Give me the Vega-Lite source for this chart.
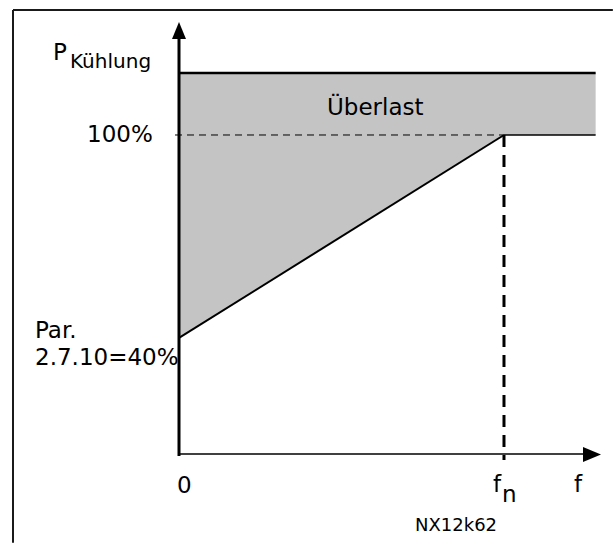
{
  "$schema": "https://vega.github.io/schema/vega-lite/v6.json",
  "width": 614,
  "height": 544,
  "autosize": {"type": "fit", "contains": "padding"},
  "padding": 0,
  "background": "white",
  "config": {"view": {"stroke": null}},
  "encoding": {
    "x": {"field": "x", "type": "quantitative", "axis": null, "scale": {"domain": [-0.5508, 1.3385], "nice": false, "zero": false}},
    "y": {"field": "y", "type": "quantitative", "axis": null, "scale": {"domain": [-20.9, 139.9], "nice": false, "zero": false}}
  },
  "layer": [
    {
      "data": {"values": [
        {"x": 0, "y": 40, "y2": 118.3},
        {"x": 1, "y": 100, "y2": 118.3},
        {"x": 1.282, "y": 100, "y2": 118.3}
      ]},
      "mark": {"type": "area", "color": "#c4c4c4", "interpolate": "linear"},
      "encoding": {"y2": {"field": "y2"}}
    },
    {
      "data": {"values": [
        {"part": "frame left", "x": -0.5108, "x2": -0.5108, "y": 136.94, "y2": -20.5},
        {"part": "frame top", "x": -0.5108, "x2": 1.335, "y": 136.94, "y2": 136.94}
      ]},
      "mark": {"type": "rule", "color": "#1a1a1a", "strokeWidth": 2},
      "encoding": {"x2": {"field": "x2"}, "y2": {"field": "y2"}}
    },
    {
      "data": {"values": [
        {"part": "overload top", "x": 0, "x2": 1.282, "y": 118.3, "y2": 118.3}
      ]},
      "mark": {"type": "rule", "color": "black", "strokeWidth": 2.5},
      "encoding": {"x2": {"field": "x2"}, "y2": {"field": "y2"}}
    },
    {
      "data": {"values": [
        {"part": "ramp", "x": 0, "x2": 1, "y": 40, "y2": 100}
      ]},
      "mark": {"type": "rule", "color": "black", "strokeWidth": 2},
      "encoding": {"x2": {"field": "x2"}, "y2": {"field": "y2"}}
    },
    {
      "data": {"values": [
        {"part": "100% right", "x": 1, "x2": 1.282, "y": 100, "y2": 100}
      ]},
      "mark": {"type": "rule", "color": "black", "strokeWidth": 1.5},
      "encoding": {"x2": {"field": "x2"}, "y2": {"field": "y2"}}
    },
    {
      "data": {"values": [
        {"part": "100% dashed", "x": -0.0123, "x2": 1, "y": 100, "y2": 100}
      ]},
      "mark": {"type": "rule", "color": "black", "strokeWidth": 1, "strokeDash": [7, 5]},
      "encoding": {"x2": {"field": "x2"}, "y2": {"field": "y2"}}
    },
    {
      "data": {"values": [
        {"part": "fn dashed", "x": 1, "x2": 1, "y": 100, "y2": 3.93}
      ]},
      "mark": {"type": "rule", "color": "black", "strokeWidth": 3, "strokeDash": [12, 8]},
      "encoding": {"x2": {"field": "x2"}, "y2": {"field": "y2"}}
    },
    {
      "data": {"values": [
        {"part": "y axis", "x": 0, "x2": 0, "y": 5.11, "y2": 129.5}
      ]},
      "mark": {"type": "rule", "color": "black", "strokeWidth": 3},
      "encoding": {"x2": {"field": "x2"}, "y2": {"field": "y2"}}
    },
    {
      "data": {"values": [
        {"part": "x axis", "x": 0, "x2": 1.25, "y": 5.7, "y2": 5.7}
      ]},
      "mark": {"type": "rule", "color": "black", "strokeWidth": 1.5},
      "encoding": {"x2": {"field": "x2"}, "y2": {"field": "y2"}}
    },
    {
      "data": {"values": [
        {"x": -0.0215, "y": 128.37, "y2": 128.37},
        {"x": 0, "y": 128.37, "y2": 133.4},
        {"x": 0.0215, "y": 128.37, "y2": 128.37}
      ]},
      "mark": {"type": "area", "color": "black", "interpolate": "linear", "orient": "vertical"},
      "encoding": {"y2": {"field": "y2"}}
    },
    {
      "data": {"values": [
        {"y": 3.33, "x": 1.2431, "x2": 1.2431},
        {"y": 5.55, "x": 1.2431, "x2": 1.2985},
        {"y": 7.77, "x": 1.2431, "x2": 1.2431}
      ]},
      "mark": {"type": "area", "color": "black", "interpolate": "linear", "orient": "horizontal"},
      "encoding": {"x2": {"field": "x2"}}
    },
    {
      "data": {"values": [
        {"label": "P", "x": -0.3877, "y": 122.16},
        {"label": "100%", "x": -0.283, "y": 98.02},
        {"label": "Überlast", "x": 0.4554, "y": 105.91},
        {"label": "Par.", "x": -0.4431, "y": 39.9},
        {"label": "2.7.10=40%", "x": -0.4431, "y": 31.99},
        {"label": "0", "x": -0.0062, "y": -5.92},
        {"label": "f", "x": 0.9662, "y": -5.53},
        {"label": "n", "x": 0.9938, "y": -8.49},
        {"label": "f", "x": 1.2154, "y": -5.53}
      ]},
      "mark": {"type": "text", "align": "left", "baseline": "alphabetic", "font": "DejaVu Sans", "fontSize": 23, "color": "black"},
      "encoding": {"text": {"field": "label"}}
    },
    {
      "data": {"values": [
        {"label": "Kühlung", "x": -0.3354, "y": 119.71}
      ]},
      "mark": {"type": "text", "align": "left", "baseline": "alphabetic", "font": "DejaVu Sans", "fontSize": 20, "color": "black"},
      "encoding": {"text": {"field": "label"}}
    },
    {
      "data": {"values": [
        {"label": "NX12k62", "x": 0.7262, "y": -17.06}
      ]},
      "mark": {"type": "text", "align": "left", "baseline": "alphabetic", "font": "DejaVu Sans", "fontSize": 18, "color": "black"},
      "encoding": {"text": {"field": "label"}}
    }
  ]
}
